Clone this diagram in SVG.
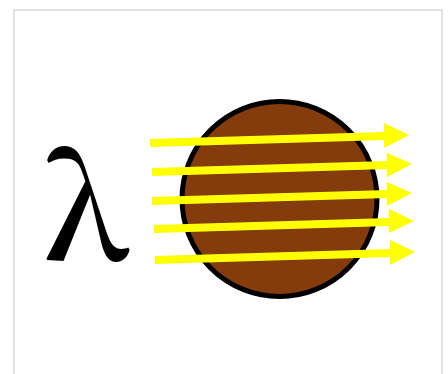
<svg xmlns="http://www.w3.org/2000/svg" width="448" height="374" viewBox="0 0 448 374">
<style>
.ray{stroke:#ffff00;stroke-width:8;fill:none}
.head{fill:#ffff00}
</style>
<rect width="448" height="374" fill="#fff"/>
<rect x="14" y="10" width="428" height="380" fill="none" stroke="#c4c4c4" stroke-width="1"/>
<g id="lambda"><text x="86" y="259.5" text-anchor="middle" font-family="Noto Serif CJK SC, Liberation Serif, serif" font-weight="600" font-size="140" fill="#000">λ</text></g>
<g id="particle"><circle cx="279.5" cy="199" r="97.5" fill="#843c0c" stroke="#000" stroke-width="5"/></g>
<g id="rays">
<line class="ray" x1="150" y1="143" x2="385" y2="136"/><polygon class="head" points="384,123 409,135 384,148"/>
<line class="ray" x1="152" y1="172" x2="388" y2="165"/><polygon class="head" points="387,153 412,164 387,177"/>
<line class="ray" x1="152" y1="201" x2="388" y2="194"/><polygon class="head" points="387,182 412,193 387,206"/>
<line class="ray" x1="154" y1="229" x2="390" y2="222"/><polygon class="head" points="389,209 414,221 389,233"/>
<line class="ray" x1="155" y1="260" x2="391" y2="253"/><polygon class="head" points="390,240 415,252 390,265"/>
</g>
</svg>
